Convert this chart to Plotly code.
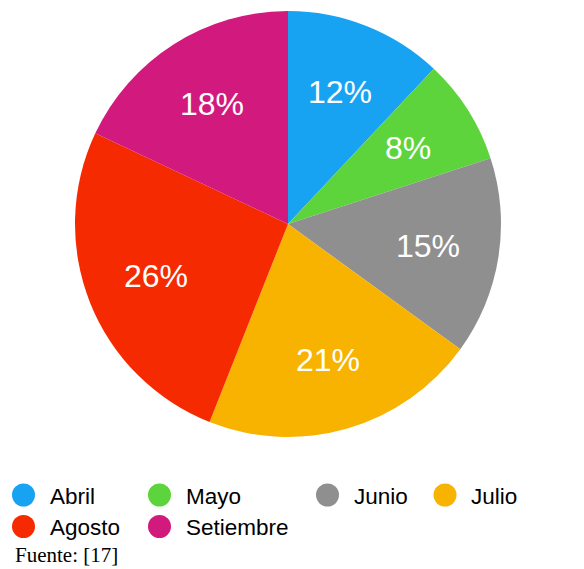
import math
import plotly.graph_objects as go

# Monthly shares (percent)
months = ["Abril", "Mayo", "Junio", "Julio", "Agosto", "Setiembre"]
shares = [12, 8, 15, 21, 26, 18]
colors = ["#17A3F2", "#5ED43C", "#8F8F8F", "#F8B300", "#F62A00", "#D2197D"]

W, H = 584, 569
# pie geometry in pixels
CX, CY, R = 288, 224, 213
LABEL_R = 0.665 * R

fig = go.Figure()
fig.add_trace(go.Pie(
    labels=months,
    values=shares,
    marker=dict(colors=colors, line=dict(width=0)),
    sort=False,
    direction="clockwise",
    rotation=0,
    textinfo="none",
    hoverinfo="label+percent",
    showlegend=False,
    domain=dict(x=[(CX - R) / W, (CX + R) / W],
                y=[1 - (CY + R) / H, 1 - (CY - R) / H]),
))

annotations = []
total = sum(shares)
cum = 0
for v in shares:
    mid = (cum + v / 2) / total * 2 * math.pi
    cum += v
    px = CX + LABEL_R * math.sin(mid)
    py = CY - LABEL_R * math.cos(mid)
    annotations.append(dict(
        x=px / W, y=1 - py / H, xref="paper", yref="paper",
        text=f"{round(v / total * 100)}%", showarrow=False,
        font=dict(family="Liberation Sans, Arial, sans-serif", size=32, color="white"),
        xanchor="center", yanchor="middle",
    ))

# legend rows: circle swatch + label
legend_cols = [23.5, 159.5, 327.5, 445]
legend_rows = [495, 526.5]
shapes = []
for i, (name, col) in enumerate(zip(months, colors)):
    cx = legend_cols[i % 4]
    cy = legend_rows[i // 4]
    rr = 11.5
    shapes.append(dict(
        type="circle", xref="paper", yref="paper",
        x0=(cx - rr) / W, x1=(cx + rr) / W,
        y0=1 - (cy + rr) / H, y1=1 - (cy - rr) / H,
        fillcolor=col, line=dict(width=0),
    ))
    annotations.append(dict(
        x=(cx + 24) / W, y=1 - (cy + 1) / H, xref="paper", yref="paper",
        text=name, showarrow=False, xanchor="left", yanchor="middle",
        font=dict(family="Liberation Sans, Arial, sans-serif", size=22.5, color="black"),
    ))

annotations.append(dict(
    x=13 / W, y=1 - 555 / H, xref="paper", yref="paper",
    text="Fuente: [17]", showarrow=False, xanchor="left", yanchor="middle",
    font=dict(family="Liberation Serif, Times New Roman, serif", size=21, color="black"),
))

fig.update_layout(
    width=W, height=H,
    margin=dict(l=0, r=0, t=0, b=0),
    paper_bgcolor="white",
    plot_bgcolor="white",
    annotations=annotations,
    shapes=shapes,
)

fig.write_html("out.html")
